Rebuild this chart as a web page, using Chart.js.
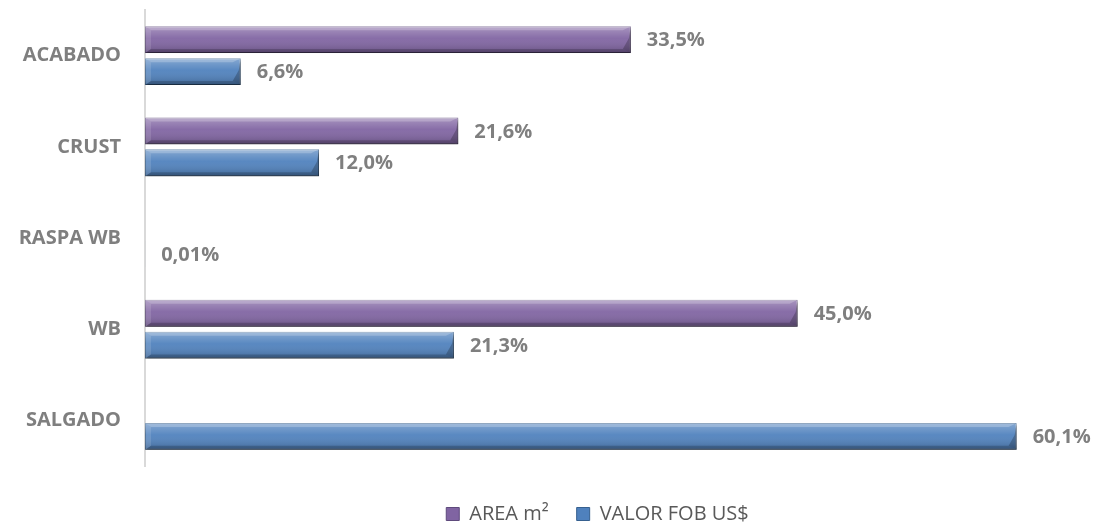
<!DOCTYPE html>
<html>
<head>
<meta charset="utf-8">
<script src="https://cdn.jsdelivr.net/npm/chart.js@4.4.1/dist/chart.umd.min.js"></script>
<style>
  html, body { margin: 0; padding: 0; background: #fff; }
  #wrap { width: 1095px; height: 526px; position: relative; }
</style>
</head>
<body>
<div id="wrap"><canvas id="myChart"></canvas></div>
<script>
const categories = ['ACABADO', 'CRUST', 'RASPA WB', 'WB', 'SALGADO'];
const areaValues = [33.5, 21.6, null, 45.0, null];
const valorValues = [6.6, 12.0, 0.01, 21.3, 60.1];
const seriesNames = ['AREA m²', 'VALOR FOB US$'];

const labelGrey = '#7f7f7f';

function formatPct(v) {
    const s = v < 0.1 ? v.toFixed(2) : v.toFixed(1);
    return s.replace('.', ',') + '%';
}

// soft shadow under the bars + bevel look on top of them
const bevelPlugin = {
    id: 'bevel',
    beforeDatasetsDraw(chart) {
        const ctx = chart.ctx;
        ctx.save();
        ctx.shadowColor = 'rgba(0,0,0,0.35)';
        ctx.shadowBlur = 4;
        ctx.shadowOffsetX = 1;
        ctx.shadowOffsetY = 3;
    },
    afterDatasetsDraw(chart) {
        const ctx = chart.ctx;
        ctx.restore();
        chart.data.datasets.forEach((ds, di) => {
            const meta = chart.getDatasetMeta(di);
            meta.data.forEach((bar, i) => {
                if (ds.data[i] == null) return;
                const p = bar.getProps(['x', 'y', 'base', 'height'], true);
                const left = Math.min(p.base, p.x), right = Math.max(p.base, p.x);
                if (right - left < 3) return;
                const top = p.y - p.height / 2, bottom = p.y + p.height / 2;
                const h = bottom - top;
                const e = 4, ex = 8;
                ctx.save();
                const g = ctx.createLinearGradient(0, top, 0, bottom);
                g.addColorStop(0, 'rgba(255,255,255,0.32)');
                g.addColorStop(0.45, 'rgba(255,255,255,0.06)');
                g.addColorStop(1, 'rgba(0,0,0,0.22)');
                ctx.fillStyle = g;
                ctx.fillRect(left, top, right - left, h);
                // top face
                ctx.fillStyle = 'rgba(255,255,255,0.22)';
                ctx.beginPath();
                ctx.moveTo(left, top); ctx.lineTo(right, top);
                ctx.lineTo(right - ex, top + e); ctx.lineTo(left + 6, top + e);
                ctx.closePath(); ctx.fill();
                // bottom face
                ctx.fillStyle = 'rgba(0,0,0,0.18)';
                ctx.beginPath();
                ctx.moveTo(left, bottom); ctx.lineTo(right, bottom);
                ctx.lineTo(right - ex, bottom - e); ctx.lineTo(left + 6, bottom - e);
                ctx.closePath(); ctx.fill();
                // right end face, diagonal bevel
                ctx.fillStyle = 'rgba(0,0,0,0.22)';
                ctx.beginPath();
                ctx.moveTo(right, top); ctx.lineTo(right, bottom);
                ctx.lineTo(right - ex, bottom - e); ctx.lineTo(right - 2, top + h * 0.45);
                ctx.closePath(); ctx.fill();
                // left end face
                ctx.fillStyle = 'rgba(255,255,255,0.12)';
                ctx.beginPath();
                ctx.moveTo(left, top); ctx.lineTo(left + 6, top + e);
                ctx.lineTo(left + 6, bottom - e); ctx.lineTo(left, bottom);
                ctx.closePath(); ctx.fill();
                ctx.restore();
            });
        });

        // value labels
        ctx.save();
        ctx.font = "bold 20px 'Open Sans', sans-serif";
        ctx.fillStyle = labelGrey;
        ctx.textAlign = 'left';
        ctx.textBaseline = 'middle';
        chart.data.datasets.forEach((ds, di) => {
            const meta = chart.getDatasetMeta(di);
            meta.data.forEach((bar, i) => {
                const v = ds.data[i];
                if (v == null) return;
                ctx.fillText(formatPct(v), bar.x + 16, bar.y + 1);
            });
        });
        ctx.restore();
    }
};

document.addEventListener('DOMContentLoaded', function () {
    Chart.defaults.font.family = "'Open Sans', sans-serif";
    const ctx = document.getElementById('myChart').getContext('2d');
    new Chart(ctx, {
        type: 'bar',
        data: {
            labels: categories,
            datasets: [{
                label: seriesNames[0],
                data: areaValues,
                backgroundColor: '#8064a2',
                borderColor: '#5e4a7c',
                borderWidth: 1,
                borderSkipped: false
            }, {
                label: seriesNames[1],
                data: valorValues,
                backgroundColor: '#4f81bd',
                borderColor: '#36608f',
                borderWidth: 1,
                borderSkipped: false
            }]
        },
        options: {
            indexAxis: 'y',
            responsive: true,
            maintainAspectRatio: false,
            animation: false,
            categoryPercentage: 0.70,
            barPercentage: 0.84,
            layout: {
                padding: {top: 10, right: 45, bottom: -8, left: 0}
            },
            scales: {
                x: {
                    min: 0,
                    max: 62.4,
                    grid: {display: false},
                    border: {display: false},
                    ticks: {display: false},
                    afterFit(scale) {
                        scale.height = 10;
                        scale.paddingLeft = 0;
                        scale.paddingRight = 0;
                    }
                },
                y: {
                    grid: {display: false, drawTicks: false},
                    border: {display: true, color: '#d9d9d9', width: 2},
                    ticks: {
                        color: labelGrey,
                        padding: 24,
                        font: {size: 20, weight: 'bold'}
                    },
                    afterFit(scale) {
                        scale.width = 145;
                        scale.paddingTop = 0;
                        scale.paddingBottom = 0;
                    }
                }
            },
            plugins: {
                legend: {
                    position: 'bottom',
                    fullSize: false,
                    labels: {
                        boxWidth: 13,
                        boxHeight: 13,
                        padding: 28,
                        color: '#595959',
                        font: {size: 20}
                    }
                },
                tooltip: {enabled: false}
            }
        },
        plugins: [bevelPlugin]
    });
});
</script>
</body>
</html>
